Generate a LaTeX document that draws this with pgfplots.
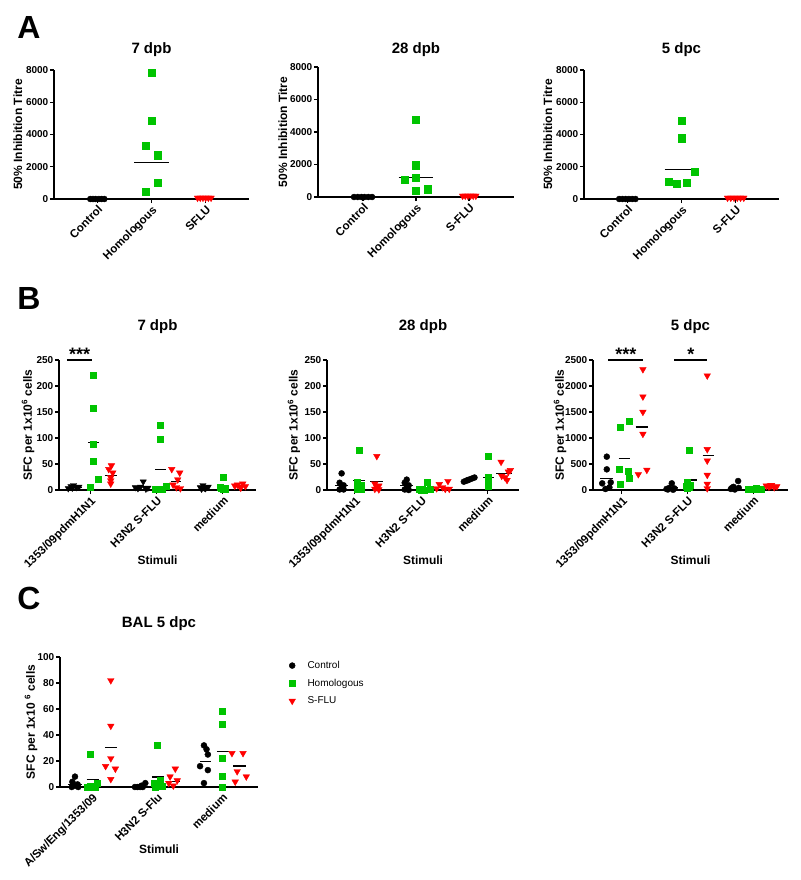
\documentclass[border=0pt]{standalone}
\usepackage{fontspec}
\setmainfont{Liberation Sans}
\usepackage{pgfplots}
\pgfplotsset{compat=1.18}
\definecolor{gpgreen}{RGB}{0,196,0}
\definecolor{gpred}{RGB}{255,0,0}
\newcommand{\fs}[1]{\fontsize{#1}{#1}\selectfont}
\newcommand{\ml}[3]{\addplot[black, line width=1.1pt, forget plot] coordinates {(#1,#3) (#2,#3)};}
\pgfplotsset{
  gp/.style={
    scale only axis,
    anchor=south west,
    axis lines*=left,
    axis line style={line width=1.3pt, black},
    tick style={line width=1.1pt, black},
    tick align=outside,
    major tick length=4pt,
    ymin=0,
    clip=false,
    xtick={0,1,2},
    x tick label style={rotate=45, anchor=north east, font=\bfseries\fs{11.5}, inner sep=1pt},
    y tick label style={font=\bfseries\fs{10}, inner sep=1.5pt},
    /pgf/number format/assume math mode=true,
    /pgf/number format/1000 sep={},
    title style={font=\bfseries\fs{15}, at={(axis description cs:0.5,1)}, anchor=base},
    ylabel style={font=\bfseries\fs{12}, anchor=center},
    xlabel style={font=\bfseries\fs{12}, anchor=center},
  },
  ctl/.style={only marks, mark=*, mark size=3pt, black},
  ctltri/.style={only marks, mark=triangle*, mark size=3.6pt, black, mark options={rotate=180}},
  hom/.style={only marks, mark=square*, mark size=3pt, gpgreen},
  sfl/.style={only marks, mark=triangle*, mark size=3.8pt, gpred, mark options={rotate=180}},
}
\begin{document}
\begin{tikzpicture}
\path[use as bounding box] (0,0) rectangle (800pt,-880pt);
\node[font=\bfseries\fs{32}] at (29pt,-27pt) {A};
\node[font=\bfseries\fs{32}] at (29pt,-298pt) {B};
\node[font=\bfseries\fs{32}] at (29pt,-598pt) {C};

% ---------- A1
\begin{axis}[gp, at={(54pt,-199pt)}, width=195pt, height=129pt,
  xmin=-0.8, xmax=2.8, ymax=8000, ytick={0,2000,4000,6000,8000},
  xticklabels={Control,Homologous,SFLU},
  title={7 dpb}, title style={yshift=11pt},
  ylabel={50\% Inhibition Titre}, ylabel style={at={(axis description cs:-0.185,0.5)}}]
\addplot[ctl] coordinates {(-0.13,0) (-0.08,0) (-0.03,0) (0.03,0) (0.08,0) (0.13,0)};
\addplot[hom, mark size=3.6pt] coordinates {(1,7835) (1,4845) (0.895,3299) (1.11,2722) (1.11,1010) (0.895,433)};
\addplot[sfl] coordinates {(1.85,70) (1.9,70) (1.95,70) (2.0,70) (2.05,70) (2.1,70)};
\ml{0.68}{1.32}{2288}
\end{axis}

% ---------- A2
\begin{axis}[gp, at={(318pt,-197pt)}, width=196pt, height=130pt,
  xmin=-0.85, xmax=2.85, ymax=8000, ytick={0,2000,4000,6000,8000},
  xticklabels={Control,Homologous,S-FLU},
  title={28 dpb}, title style={yshift=8pt},
  ylabel={50\% Inhibition Titre}, ylabel style={at={(axis description cs:-0.179,0.5)}}]
\addplot[ctl] coordinates {(-0.17,0) (-0.1,0) (-0.03,0) (0.03,0) (0.1,0) (0.17,0)};
\addplot[hom, mark size=3.6pt] coordinates {(1,4742) (1,1959) (1,1196) (0.78,1072) (1,412) (1.22,474)};
\addplot[sfl] coordinates {(1.88,70) (1.93,70) (1.98,70) (2.03,70) (2.08,70) (2.13,70)};
\ml{0.67}{1.33}{1175}
\end{axis}

% ---------- A3
\begin{axis}[gp, at={(584pt,-199pt)}, width=195pt, height=129pt,
  xmin=-0.8, xmax=2.8, ymax=8000, ytick={0,2000,4000,6000,8000},
  xticklabels={Control,Homologous,S-FLU},
  title={5 dpc}, title style={yshift=11pt},
  ylabel={50\% Inhibition Titre}, ylabel style={at={(axis description cs:-0.185,0.5)}}]
\addplot[ctl] coordinates {(-0.15,0) (-0.09,0) (-0.03,0) (0.03,0) (0.09,0) (0.15,0)};
\addplot[hom, mark size=3.6pt] coordinates {(1,4862) (1,3770) (1.24,1689) (0.76,1092) (0.91,968) (1.09,1030)};
\addplot[sfl] coordinates {(1.85,70) (1.91,70) (1.97,70) (2.03,70) (2.09,70) (2.15,70)};
\ml{0.69}{1.22}{1813}
\end{axis}

% ---------- B1
\begin{axis}[gp, at={(59pt,-490pt)}, width=197pt, height=130pt,
  xmin=-0.47, xmax=2.5, ymax=250, ytick={0,50,100,150,200,250},
  xticklabels={1353/09pdmH1N1,H3N2 S-FLU,medium},
  title={7 dpb}, title style={yshift=24pt},
  ylabel={SFC per 1x10\textsuperscript{6} cells}, ylabel style={at={(axis description cs:-0.157,0.5)}},
  xlabel={Stimuli}, xlabel style={at={(axis description cs:0.5,-0.538)}}]
\addplot[ctltri] coordinates {(-0.33,3) (-0.29,7) (-0.25,9) (-0.21,5) (-0.27,4) (-0.17,6)
  (0.68,5) (0.72,3) (0.8,16) (0.76,6) (0.84,2) (0.87,4)
  (1.66,5) (1.7,9) (1.74,3) (1.78,6) (1.72,4) (1.68,2)};
\addplot[hom] coordinates {(0.05,220) (0.05,157) (0.05,88) (0.05,56) (0.12,20) (0,6)
  (1.05,124) (1.05,97) (1.15,8) (0.98,2) (1.03,1) (1.09,2)
  (2,25) (1.97,4) (2.03,2) (2,1) (1.96,6) (2.04,3)};
\addplot[sfl] coordinates {(0.32,47) (0.28,40) (0.34,33) (0.31,24) (0.31,18) (0.31,12)
  (1.23,40) (1.35,33) (1.32,20) (1.25,10) (1.3,5) (1.36,3)
  (2.18,8) (2.22,10) (2.26,6) (2.3,12) (2.34,7) (2.27,4)};
\ml{-0.35}{-0.12}{5}
\ml{-0.03}{0.14}{91}
\ml{0.22}{0.4}{27.5}
\ml{0.7}{0.9}{6}
\ml{0.98}{1.15}{39.5}
\ml{1.22}{1.37}{17}
\ml{1.64}{1.8}{5}
\ml{1.92}{2.08}{7}
\ml{2.18}{2.36}{7}
\addplot[black, line width=1.2pt, forget plot] coordinates {(-0.35,250) (0.03,250)};
\node[font=\bfseries\fs{18}, anchor=base] at (axis cs:-0.16,250) {***};
\end{axis}

% ---------- B2
\begin{axis}[gp, at={(327pt,-490pt)}, width=192pt, height=130pt,
  xmin=-0.42, xmax=2.47, ymax=250, ytick={0,50,100,150,200,250},
  xticklabels={1353/09pdmH1N1,H3N2 S-FLU,medium},
  title={28 dpb}, title style={yshift=24pt},
  ylabel={SFC per 1x10\textsuperscript{6} cells}, ylabel style={at={(axis description cs:-0.172,0.5)}},
  xlabel={Stimuli}, xlabel style={at={(axis description cs:0.5,-0.538)}}]
\addplot[ctl] coordinates {(-0.2,32) (-0.23,14) (-0.17,9) (-0.2,4) (-0.23,1) (-0.17,1)
  (0.78,20) (0.75,14) (0.81,9) (0.78,4) (0.75,1) (0.81,0)
  (1.64,16) (1.68,18) (1.72,20) (1.76,22) (1.8,24) (1.7,19)};
\addplot[hom] coordinates {(0.06,76) (0.03,15) (0.09,10) (0.06,5) (0.03,2) (0.09,1)
  (1.09,15) (0.97,2) (1.01,1) (1.05,0) (1.13,1) (1.0,0)
  (2,65) (2,25) (2,20) (2,15) (2,10) (2,8)};
\addplot[sfl] coordinates {(0.33,65) (0.3,12) (0.36,8) (0.33,5) (0.3,2) (0.36,1)
  (1.4,17) (1.27,11) (1.32,5) (1.23,3) (1.36,2) (1.42,2)
  (2.2,54) (2.34,38) (2.31,35) (2.21,27) (2.29,19) (2.26,24)};
\ml{-0.3}{-0.1}{9.5}
\ml{-0.03}{0.15}{18.5}
\ml{0.23}{0.42}{15.5}
\ml{0.68}{0.88}{8}
\ml{1.22}{1.42}{5}
\ml{1.62}{1.82}{20}
\ml{1.93}{2.1}{24}
\ml{2.12}{2.36}{32}
\end{axis}

% ---------- B3
\begin{axis}[gp, at={(593pt,-490pt)}, width=195pt, height=130pt,
  xmin=-0.44, xmax=2.53, ymax=2500, ytick={0,500,1000,1500,2000,2500},
  xticklabels={1353/09pdmH1N1,H3N2 S-FLU,medium},
  title={5 dpc}, title style={yshift=24pt},
  ylabel={SFC per 1x10\textsuperscript{6} cells}, ylabel style={at={(axis description cs:-0.169,0.5)}},
  xlabel={Stimuli}, xlabel style={at={(axis description cs:0.5,-0.538)}}]
\addplot[ctl] coordinates {(-0.23,641) (-0.23,397) (-0.17,147) (-0.3,128) (-0.19,50) (-0.25,20)
  (0.68,20) (0.72,40) (0.76,128) (0.8,30) (0.7,10) (0.78,5)
  (1.66,20) (1.7,60) (1.77,173) (1.78,40) (1.72,10) (1.68,45)};
\addplot[hom] coordinates {(0.11,1320) (-0.02,1199) (-0.04,391) (0.1,370) (0.11,224) (-0.02,115)
  (1.02,756) (1.0,150) (1.04,100) (0.98,80) (1.02,60) (1.0,40)
  (1.92,20) (1.96,25) (2.0,15) (2.04,30) (2.08,20) (2.12,10)};
\addplot[sfl] coordinates {(0.32,2320) (0.32,1795) (0.32,1500) (0.32,1077) (0.38,385) (0.25,301)
  (1.3,2199) (1.3,782) (1.3,564) (1.3,288) (1.3,115) (1.3,30)
  (2.2,80) (2.24,60) (2.28,90) (2.32,50) (2.36,70) (2.26,85)};
\ml{-0.33}{-0.13}{224}
\ml{-0.05}{0.12}{609}
\ml{0.21}{0.4}{1211}
\ml{0.66}{0.86}{40}
\ml{0.95}{1.14}{192}
\ml{1.23}{1.4}{660}
\addplot[black, line width=1.2pt, forget plot] coordinates {(-0.21,2500) (0.32,2500)};
\node[font=\bfseries\fs{18}, anchor=base] at (axis cs:0.06,2500) {***};
\addplot[black, line width=1.2pt, forget plot] coordinates {(0.8,2500) (1.3,2500)};
\node[font=\bfseries\fs{18}, anchor=base] at (axis cs:1.05,2500) {*};
\end{axis}

% ---------- C
\begin{axis}[gp, at={(60pt,-787pt)}, width=198pt, height=130pt,
  xmin=-0.49, xmax=2.55, ymax=100, ytick={0,20,40,60,80,100},
  xticklabels={A/Sw/Eng/1353/09,H3N2 S-Flu,medium},
  title={BAL 5 dpc}, title style={yshift=24pt},
  ylabel={SFC per 1x10 \textsuperscript{6} cells}, ylabel style={at={(axis description cs:-0.146,0.5)}},
  xlabel={Stimuli}, xlabel style={at={(axis description cs:0.5,-0.477)}},
  legend style={at={(axis description cs:1.14,1.0)}, anchor=north west, draw=none, fill=none,
    font=\fs{10}, row sep=5pt},
  legend cell align=left]
\addplot[ctl] coordinates {(-0.26,8) (-0.3,4) (-0.22,2) (-0.26,1) (-0.31,0) (-0.21,0)
  (0.66,0) (0.7,0) (0.74,0) (0.78,0) (0.82,3) (0.76,1)
  (1.72,32) (1.76,29) (1.78,25) (1.66,16) (1.78,13) (1.72,3)};
\addlegendentry{\hspace*{10pt}Control}
\addplot[hom] coordinates {(-0.03,25) (-0.08,0) (0.02,0) (0.08,3) (-0.02,1) (0.05,0)
  (1,32) (0.95,3) (1.03,2) (1.08,1) (0.97,0) (1.05,5)
  (2,58) (2,48) (2,22) (2,8) (2,0)};
\addlegendentry{\hspace*{10pt}Homologous}
\addplot[sfl] coordinates {(0.29,82) (0.29,47) (0.29,22) (0.21,16) (0.36,14) (0.29,6)
  (1.28,14) (1.2,8) (1.31,5) (1.25,1) (1.18,3)
  (2.15,26) (2.32,26) (2.23,12) (2.37,8) (2.2,4)};
\addlegendentry{\hspace*{10pt}S-FLU}
\ml{-0.37}{-0.15}{1.8}
\ml{-0.08}{0.11}{5.6}
\ml{0.2}{0.38}{30.4}
\ml{0.64}{0.86}{0.5}
\ml{0.92}{1.1}{7.7}
\ml{1.17}{1.35}{4}
\ml{1.66}{1.83}{19.9}
\ml{1.92}{2.1}{27.6}
\ml{2.17}{2.37}{16.2}
\end{axis}
\end{tikzpicture}
\end{document}
